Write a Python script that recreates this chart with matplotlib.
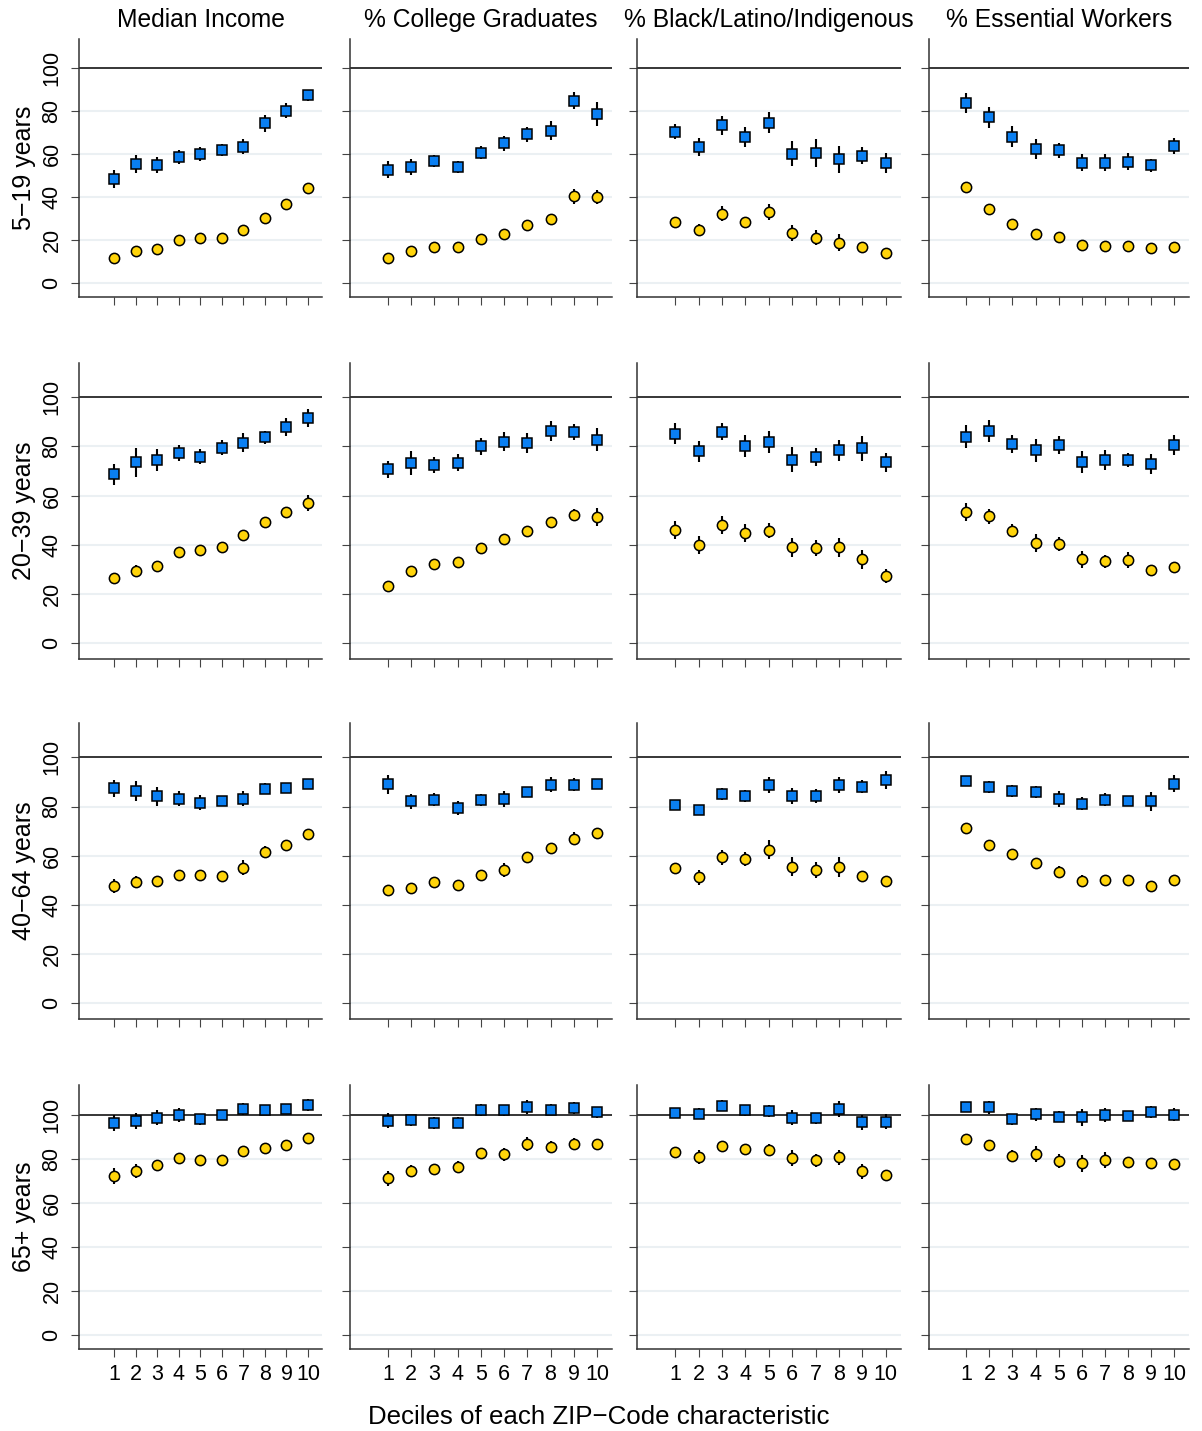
import matplotlib
matplotlib.use("Agg")
import matplotlib.pyplot as plt

plt.rcParams['font.family'] = ['Liberation Sans', 'DejaVu Sans']

# ---------------- data ----------------
deciles = [1, 2, 3, 4, 5, 6, 7, 8, 9, 10]
decile_labels = ["1", "2", "3", "4", "5", "6", "7", "8", "9", "10"]
characteristics = ["Median Income", "% College Graduates",
                   "% Black/Latino/Indigenous", "% Essential Workers"]
age_groups = ["5\u221219 years", "20\u221239 years", "40\u221264 years", "65+ years"]
y_ticks = [0, 20, 40, 60, 80, 100]
y_tick_labels = ["0", "20", "40", "60", "80", "100"]
grid_levels = [0, 20, 40, 60, 80]
reference_level = 100
x_title = "Deciles of each ZIP\u2212Code characteristic"

# ---- 5-19 years ----
inc_519_sq = [48.4, 55.5, 55.0, 58.8, 60.2, 61.9, 63.6, 74.4, 80.3, 87.4]
inc_519_sq_err = [4.1, 4.3, 3.8, 3.1, 3.4, 2.7, 3.3, 3.8, 3.5, 2.7]
inc_519_ci = [11.9, 15.2, 16.1, 20.0, 21.1, 21.1, 24.7, 30.5, 36.7, 44.5]
inc_519_ci_err = [1.2, 1.2, 1.2, 1.3, 1.3, 1.3, 1.4, 1.4, 1.5, 1.5]

col_519_sq = [52.9, 54.0, 56.7, 54.1, 60.8, 65.1, 69.3, 71.0, 85.0, 78.8]
col_519_sq_err = [3.8, 3.7, 2.8, 2.9, 2.9, 3.5, 3.6, 4.4, 3.9, 5.6]
col_519_ci = [11.9, 15.2, 17.1, 16.9, 20.8, 23.1, 27.1, 29.9, 40.5, 40.2]
col_519_ci_err = [1.2, 1.3, 1.3, 1.3, 1.4, 1.5, 1.5, 1.6, 3.5, 3.3]

bli_519_sq = [70.4, 63.5, 73.5, 68.1, 74.7, 60.3, 60.6, 57.7, 59.4, 56.0]
bli_519_sq_err = [3.5, 4.3, 4.5, 4.6, 4.8, 5.8, 6.7, 6.3, 3.8, 4.5]
bli_519_ci = [28.7, 24.8, 32.4, 28.5, 33.3, 23.3, 21.2, 18.9, 16.9, 14.1]
bli_519_ci_err = [1.5, 2.8, 3.5, 2.5, 3.8, 3.8, 3.4, 3.8, 1.5, 1.5]

ess_519_sq = [84.0, 77.2, 68.2, 62.5, 61.9, 56.1, 56.1, 56.6, 55.0, 63.9]
ess_519_sq_err = [4.6, 4.9, 5.0, 4.7, 3.5, 4.0, 4.0, 4.0, 3.0, 3.6]
ess_519_ci = [44.7, 34.4, 27.8, 22.8, 21.7, 17.7, 17.4, 17.5, 16.3, 17.1]
ess_519_ci_err = [2.2, 2.2, 2.0, 1.6, 1.5, 1.2, 1.2, 1.2, 1.2, 1.2]

# ---- 20-39 years ----
inc_2039_sq = [68.7, 73.6, 74.4, 77.4, 75.9, 79.5, 81.6, 83.7, 87.9, 91.5]
inc_2039_sq_err = [4.3, 5.8, 4.4, 3.4, 3.0, 3.0, 3.9, 2.6, 3.5, 3.7]
inc_2039_ci = [26.4, 29.3, 31.6, 37.0, 37.9, 39.0, 43.9, 49.2, 53.4, 57.0]
inc_2039_ci_err = [1.5, 2.5, 1.5, 1.5, 1.5, 1.5, 1.5, 1.5, 1.8, 3.2]

col_2039_sq = [70.7, 73.3, 72.5, 73.4, 80.1, 82.0, 81.4, 86.2, 85.9, 82.8]
col_2039_sq_err = [3.6, 4.9, 3.4, 3.5, 3.4, 3.7, 3.9, 4.0, 3.3, 4.8]
col_2039_ci = [23.4, 29.3, 32.1, 32.9, 38.8, 42.4, 45.8, 49.2, 52.2, 51.4]
col_2039_ci_err = [1.5, 1.5, 1.5, 1.5, 1.5, 1.5, 1.5, 1.5, 2.2, 3.7]

bli_2039_sq = [85.2, 78.0, 86.0, 80.2, 81.8, 74.6, 75.7, 78.5, 79.3, 73.6]
bli_2039_sq_err = [4.3, 4.1, 3.4, 4.5, 4.3, 5.1, 3.5, 4.2, 5.0, 3.9]
bli_2039_ci = [46.1, 40.1, 48.2, 44.9, 45.8, 39.0, 38.6, 39.0, 34.1, 27.5]
bli_2039_ci_err = [3.7, 3.7, 3.6, 3.7, 3.0, 3.8, 3.3, 3.9, 3.7, 2.8]

ess_2039_sq = [84.0, 86.3, 81.0, 78.5, 80.6, 73.7, 74.5, 74.4, 72.8, 80.5]
ess_2039_sq_err = [4.7, 4.3, 3.5, 4.6, 3.5, 4.3, 4.0, 2.9, 4.1, 4.1]
ess_2039_ci = [53.5, 51.6, 45.8, 40.8, 40.5, 34.1, 33.3, 34.0, 29.9, 31.2]
ess_2039_ci_err = [3.7, 3.0, 2.7, 3.7, 2.8, 3.3, 2.7, 3.3, 1.5, 1.5]

# ---- 40-64 years ----
inc_4064_sq = [87.4, 86.2, 84.1, 83.2, 81.6, 82.1, 83.1, 87.3, 87.4, 89.0]
inc_4064_sq_err = [3.4, 4.0, 3.7, 2.9, 2.9, 2.0, 3.0, 2.3, 2.0, 2.0]
inc_4064_ci = [47.7, 49.2, 49.7, 52.0, 52.0, 51.6, 55.1, 61.4, 64.2, 68.8]
inc_4064_ci_err = [3.0, 2.5, 2.0, 2.0, 2.0, 2.0, 3.0, 2.5, 1.5, 1.5]

col_4064_sq = [89.0, 82.1, 82.8, 79.5, 82.7, 83.1, 85.8, 88.8, 88.9, 89.2]
col_4064_sq_err = [3.9, 3.0, 2.5, 2.9, 2.5, 3.2, 2.0, 3.0, 2.6, 2.0]
col_4064_ci = [46.2, 46.7, 49.5, 48.0, 52.0, 54.1, 59.3, 63.3, 66.9, 69.4]
col_4064_ci_err = [2.0, 2.0, 2.0, 2.0, 2.0, 2.8, 2.0, 2.0, 2.7, 2.0]

bli_4064_sq = [80.5, 78.7, 85.1, 84.3, 88.6, 84.4, 84.3, 88.8, 88.1, 90.7]
bli_4064_sq_err = [2.0, 2.0, 2.5, 2.5, 3.2, 3.2, 2.7, 3.2, 2.8, 3.6]
bli_4064_ci = [54.9, 51.2, 59.3, 58.8, 62.5, 55.6, 54.2, 55.4, 51.8, 49.9]
bli_4064_ci_err = [2.0, 3.0, 3.1, 2.9, 3.7, 3.8, 3.3, 4.0, 2.0, 1.5]

ess_4064_sq = [90.5, 87.9, 86.2, 85.8, 82.9, 81.2, 82.8, 82.4, 82.1, 89.3]
ess_4064_sq_err = [2.0, 2.5, 2.5, 2.5, 3.3, 2.7, 2.5, 2.0, 3.8, 3.6]
ess_4064_ci = [71.1, 64.4, 60.8, 56.9, 53.5, 49.6, 50.0, 50.1, 47.7, 50.1]
ess_4064_ci_err = [1.5, 1.5, 1.5, 2.2, 2.5, 2.5, 1.5, 1.5, 2.0, 1.5]

# ---- 65+ years ----
inc_65_sq = [96.4, 97.3, 98.8, 100.0, 98.0, 100.0, 102.7, 102.4, 102.7, 104.5]
inc_65_sq_err = [3.8, 3.8, 3.3, 3.0, 2.6, 2.0, 2.7, 2.0, 2.0, 2.7]
inc_65_ci = [72.3, 74.5, 77.1, 80.3, 79.5, 79.7, 83.6, 85.0, 86.5, 89.4]
inc_65_ci_err = [3.8, 3.2, 2.5, 2.5, 2.0, 2.0, 2.0, 2.0, 1.5, 1.5]

col_65_sq = [97.4, 97.6, 96.5, 96.5, 102.4, 102.1, 103.8, 102.4, 103.3, 101.2]
col_65_sq_err = [3.4, 2.5, 2.8, 2.6, 2.8, 2.5, 3.2, 2.6, 2.8, 2.5]
col_65_ci = [71.2, 74.7, 75.6, 76.5, 82.7, 82.1, 86.7, 85.5, 87.0, 86.7]
col_65_ci_err = [3.3, 2.5, 2.0, 2.5, 2.5, 3.0, 3.2, 2.5, 2.5, 2.0]

bli_65_sq = [100.8, 100.6, 104.1, 102.1, 101.8, 98.8, 98.5, 102.7, 96.7, 97.0]
bli_65_sq_err = [2.0, 2.5, 2.5, 2.5, 2.9, 3.4, 2.5, 3.6, 3.4, 3.4]
bli_65_ci = [83.2, 80.8, 85.8, 84.7, 84.1, 80.5, 79.4, 80.8, 74.4, 72.6]
bli_65_ci_err = [2.0, 3.1, 2.0, 2.0, 2.5, 3.6, 3.0, 3.4, 3.3, 2.5]

ess_65_sq = [103.5, 103.5, 98.0, 100.3, 99.1, 98.9, 100.0, 99.7, 101.4, 100.2]
ess_65_sq_err = [2.0, 3.0, 2.5, 3.0, 2.5, 3.8, 3.2, 2.0, 2.7, 3.0]
ess_65_ci = [89.2, 86.2, 81.5, 82.1, 79.1, 78.0, 79.5, 78.5, 78.0, 77.7]
ess_65_ci_err = [2.0, 2.5, 2.5, 3.6, 3.2, 3.8, 3.5, 2.0, 2.5, 2.5]

panels = [
    [(inc_519_sq, inc_519_sq_err, inc_519_ci, inc_519_ci_err),
     (col_519_sq, col_519_sq_err, col_519_ci, col_519_ci_err),
     (bli_519_sq, bli_519_sq_err, bli_519_ci, bli_519_ci_err),
     (ess_519_sq, ess_519_sq_err, ess_519_ci, ess_519_ci_err)],
    [(inc_2039_sq, inc_2039_sq_err, inc_2039_ci, inc_2039_ci_err),
     (col_2039_sq, col_2039_sq_err, col_2039_ci, col_2039_ci_err),
     (bli_2039_sq, bli_2039_sq_err, bli_2039_ci, bli_2039_ci_err),
     (ess_2039_sq, ess_2039_sq_err, ess_2039_ci, ess_2039_ci_err)],
    [(inc_4064_sq, inc_4064_sq_err, inc_4064_ci, inc_4064_ci_err),
     (col_4064_sq, col_4064_sq_err, col_4064_ci, col_4064_ci_err),
     (bli_4064_sq, bli_4064_sq_err, bli_4064_ci, bli_4064_ci_err),
     (ess_4064_sq, ess_4064_sq_err, ess_4064_ci, ess_4064_ci_err)],
    [(inc_65_sq, inc_65_sq_err, inc_65_ci, inc_65_ci_err),
     (col_65_sq, col_65_sq_err, col_65_ci, col_65_ci_err),
     (bli_65_sq, bli_65_sq_err, bli_65_ci, bli_65_ci_err),
     (ess_65_sq, ess_65_sq_err, ess_65_ci, ess_65_ci_err)],
]

# ---------------- layout (pixels) ----------------
W, H = 1202, 1431
XLIM = (-0.63, 10.64)
YLIM = (-6.2, 113.8)
col_x = [(114.3, 308.0), (388.0, 597.0), (675.3, 885.7), (966.3, 1174.0)]
row_y = [(68.3, 283.3), (397.3, 643.3), (757.3, 1003.3), (1115.0, 1335.0)]

SQ_COLOR = "#0A7FF2"
CI_COLOR = "#FFD40A"
GRID_COLOR = "#EBF0F3"
SPINE_COLOR = "#333333"

fig = plt.figure(figsize=(W / 100, H / 100), dpi=100)

for r in range(4):
    y100, y0 = row_y[r]
    ppu_y = (y0 - y100) / 100.0
    top = y100 - (YLIM[1] - 100) * ppu_y
    bottom = y0 + (0 - YLIM[0]) * ppu_y
    for c in range(4):
        x1, x10 = col_x[c]
        ppu_x = (x10 - x1) / 9.0
        left = x1 - (1 - XLIM[0]) * ppu_x
        right = x10 + (XLIM[1] - 10) * ppu_x
        ax = fig.add_axes([left / W, 1 - bottom / H, (right - left) / W, (bottom - top) / H])
        sq, sq_err, ci, ci_err = panels[r][c]

        for g in grid_levels:
            ax.axhline(g, color=GRID_COLOR, lw=1.5, zorder=0)
        ax.axhline(reference_level, color="black", lw=1.1, zorder=1)

        ax.errorbar(deciles, sq, yerr=sq_err, fmt="none", ecolor="black",
                    elinewidth=1.5, capsize=0, zorder=2)
        ax.errorbar(deciles, ci, yerr=ci_err, fmt="none", ecolor="black",
                    elinewidth=1.5, capsize=0, zorder=2)
        ax.plot(deciles, sq, ls="none", marker="s", ms=7.6, mfc=SQ_COLOR,
                mec="black", mew=1.1, zorder=3)
        ax.plot(deciles, ci, ls="none", marker="o", ms=7.4, mfc=CI_COLOR,
                mec="black", mew=1.1, zorder=3)

        ax.set_xlim(*XLIM)
        ax.set_ylim(*YLIM)
        for s in ("top", "right"):
            ax.spines[s].set_visible(False)
        for s in ("left", "bottom"):
            ax.spines[s].set_color(SPINE_COLOR)
            ax.spines[s].set_linewidth(1.1)
        ax.set_xticks(deciles)
        ax.set_yticks(y_ticks)
        ax.tick_params(axis="both", direction="out", length=6, width=0.8,
                       color="#444444", labelsize=15.5, pad=5)
        if r == 3:
            ax.set_xticklabels(decile_labels)
        else:
            ax.set_xticklabels([])
        if c == 0:
            ax.set_yticklabels(y_tick_labels, rotation=90, va="center")
            ax.tick_params(axis="y", pad=6)
        else:
            ax.set_yticklabels([])

        if r == 0:
            fig.text((left + right) / 2 / W, 1 - 27 / H, characteristics[c],
                     ha="center", va="baseline", fontsize=17.7)
    fig.text(24 / W, 1 - ((top + bottom) / 2) / H, age_groups[r], rotation=90,
             ha="center", va="center", fontsize=18)

fig.text(599 / W, 1 - 1417 / H, x_title, ha="center", va="center", fontsize=18.6)

fig.savefig("out.png", dpi=100)
